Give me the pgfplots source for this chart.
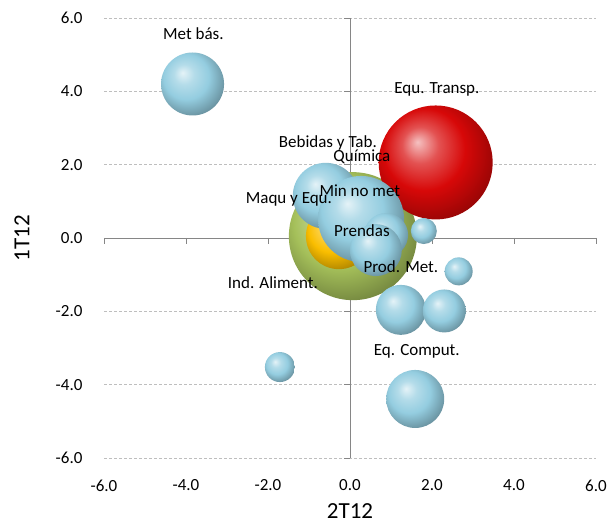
\documentclass[border=0pt]{standalone}
\usepackage{pgfplots}
\pgfplotsset{compat=1.18}
\usepackage{fontspec}
\setmainfont{Carlito}
\usetikzlibrary{plotmarks}

\definecolor{axgray}{RGB}{134,134,134}
\definecolor{gridgray}{RGB}{190,190,190}
\definecolor{bubblue}{RGB}{148,205,224}
\definecolor{bubred}{RGB}{215,8,8}
\definecolor{bubgreen}{RGB}{165,192,90}
\definecolor{bubyellow}{RGB}{250,190,0}

% esfera mas clara que la "ball" de tikz
\makeatletter
\pgfdeclareradialshading[tikz@ball]{bubble}{\pgfqpoint{-8bp}{9bp}}{%
  color(0bp)=(tikz@ball!25!white);
  color(8bp)=(tikz@ball!70!white);
  color(18bp)=(tikz@ball);
  color(27bp)=(tikz@ball!78!black);
  color(35bp)=(tikz@ball!58!black);
  color(50bp)=(tikz@ball!45!black)}
\makeatother
\pgfdeclareplotmark{bubble}{%
  \pgfpathcircle{\pgfpointorigin}{\pgfplotmarksize}%
  \pgfshadepath{bubble}{0}%
  \pgfusepath{}}

% x y r (radio en pt)
\pgfplotstableread{
x y r
-3.84 4.20 31.5
-0.59 1.15 33
}\azulA
\pgfplotstableread{
x y r
0.27 0.52 43
0.88 0.08 22
0.63 -0.33 26
1.80 0.19 13
2.65 -0.91 14
1.24 -1.96 25
2.30 -1.99 21.5
-1.71 -3.52 15
1.59 -4.39 29
}\azulB
\pgfplotstableread{
x y r
2.09 2.06 57
}\rojo
\pgfplotstableread{
x y r
0.07 0.05 64
}\verde
\pgfplotstableread{
x y r
-0.27 0.05 33
}\amarillo

\begin{document}
\begin{tikzpicture}
\useasboundingbox (0,0) rectangle (608pt,524pt);
\begin{axis}[
    at={(104pt,66pt)}, anchor=south west,
    scale only axis,
    width=492pt, height=440pt,
    xmin=-6, xmax=6, ymin=-6, ymax=6,
    xtick={-6,-4,...,6}, ytick={-6,-4,...,6},
    axis line style={draw=none},
    tick style={draw=none},
    ymajorgrids,
    grid style={gridgray, dash pattern=on 3pt off 2pt},
    /pgf/number format/.cd, fixed, fixed zerofill, precision=1, assume math mode=true,
    /pgfplots/.cd,
    ticklabel style={font=\fontsize{17}{20}\selectfont},
    xticklabel style={yshift=-18pt},
    yticklabel style={xshift=-18pt},
    xlabel={2T12}, ylabel={1T12},
    label style={font=\fontsize{23}{27}\selectfont},
    xlabel style={at={(axis description cs:0.5,-0.12)}, anchor=center},
    ylabel style={at={(axis description cs:-0.167,0.5)}, anchor=center},
    clip=false,
    bubble/.style={scatter, only marks, mark=bubble,
        scatter/use mapped color={draw=none},
        visualization depends on={\thisrow{r} \as \rad},
        scatter/@pre marker code/.append style={/tikz/mark size=\rad}},
]
% ejes en cero
\draw[axgray, line width=0.8pt] (axis cs:-6,0) -- (axis cs:6,0);
\draw[axgray, line width=0.8pt] (axis cs:0,-6) -- (axis cs:0,6);
\pgfplotsinvokeforeach{-6,-4,-2,0,2,4,6}{
    \draw[axgray, line width=0.8pt] (axis cs:#1,0) -- ([yshift=-6pt]axis cs:#1,0);
    \draw[axgray, line width=0.8pt] (axis cs:0,#1) -- ([xshift=-6pt]axis cs:0,#1);
}

\addplot[bubble, mark options={ball color=bubgreen}] table {\verde};
\addplot[bubble, mark options={ball color=bubred}] table {\rojo};
\addplot[bubble, mark options={ball color=bubyellow}] table {\amarillo};
\addplot[bubble, mark options={ball color=bubblue}] table {\azulA};
\addplot[bubble, mark options={ball color=bubblue}] table {\azulB};

% posiciones de las etiquetas
\coordinate (l1) at (axis cs:-3.82,5.58);
\coordinate (l2) at (axis cs:2.12,4.06);
\coordinate (l3) at (axis cs:-0.54,2.58);
\coordinate (l4) at (axis cs:0.29,2.21);
\coordinate (l5) at (axis cs:0.24,1.29);
\coordinate (l6) at (axis cs:-1.49,1.04);
\coordinate (l7) at (axis cs:0.29,0.19);
\coordinate (l8) at (axis cs:1.24,-0.79);
\coordinate (l9) at (axis cs:-1.88,-1.23);
\coordinate (l10) at (axis cs:1.63,-3.08);
\end{axis}

\begin{scope}[every node/.style={font=\fontsize{17}{20}\selectfont, inner sep=0pt}]
\node at (l1) {Met bás.};
\node at (l2) {Equ. Transp.};
\node at (l3) {Bebidas y Tab.};
\node at (l4) {Química};
\node at (l5) {Min no met};
\node at (l6) {Maqu y Equ.};
\node at (l7) {Prendas};
\node at (l8) {Prod. Met.};
\node at (l9) {Ind. Aliment.};
\node at (l10) {Eq. Comput.};
\end{scope}
\end{tikzpicture}
\end{document}
